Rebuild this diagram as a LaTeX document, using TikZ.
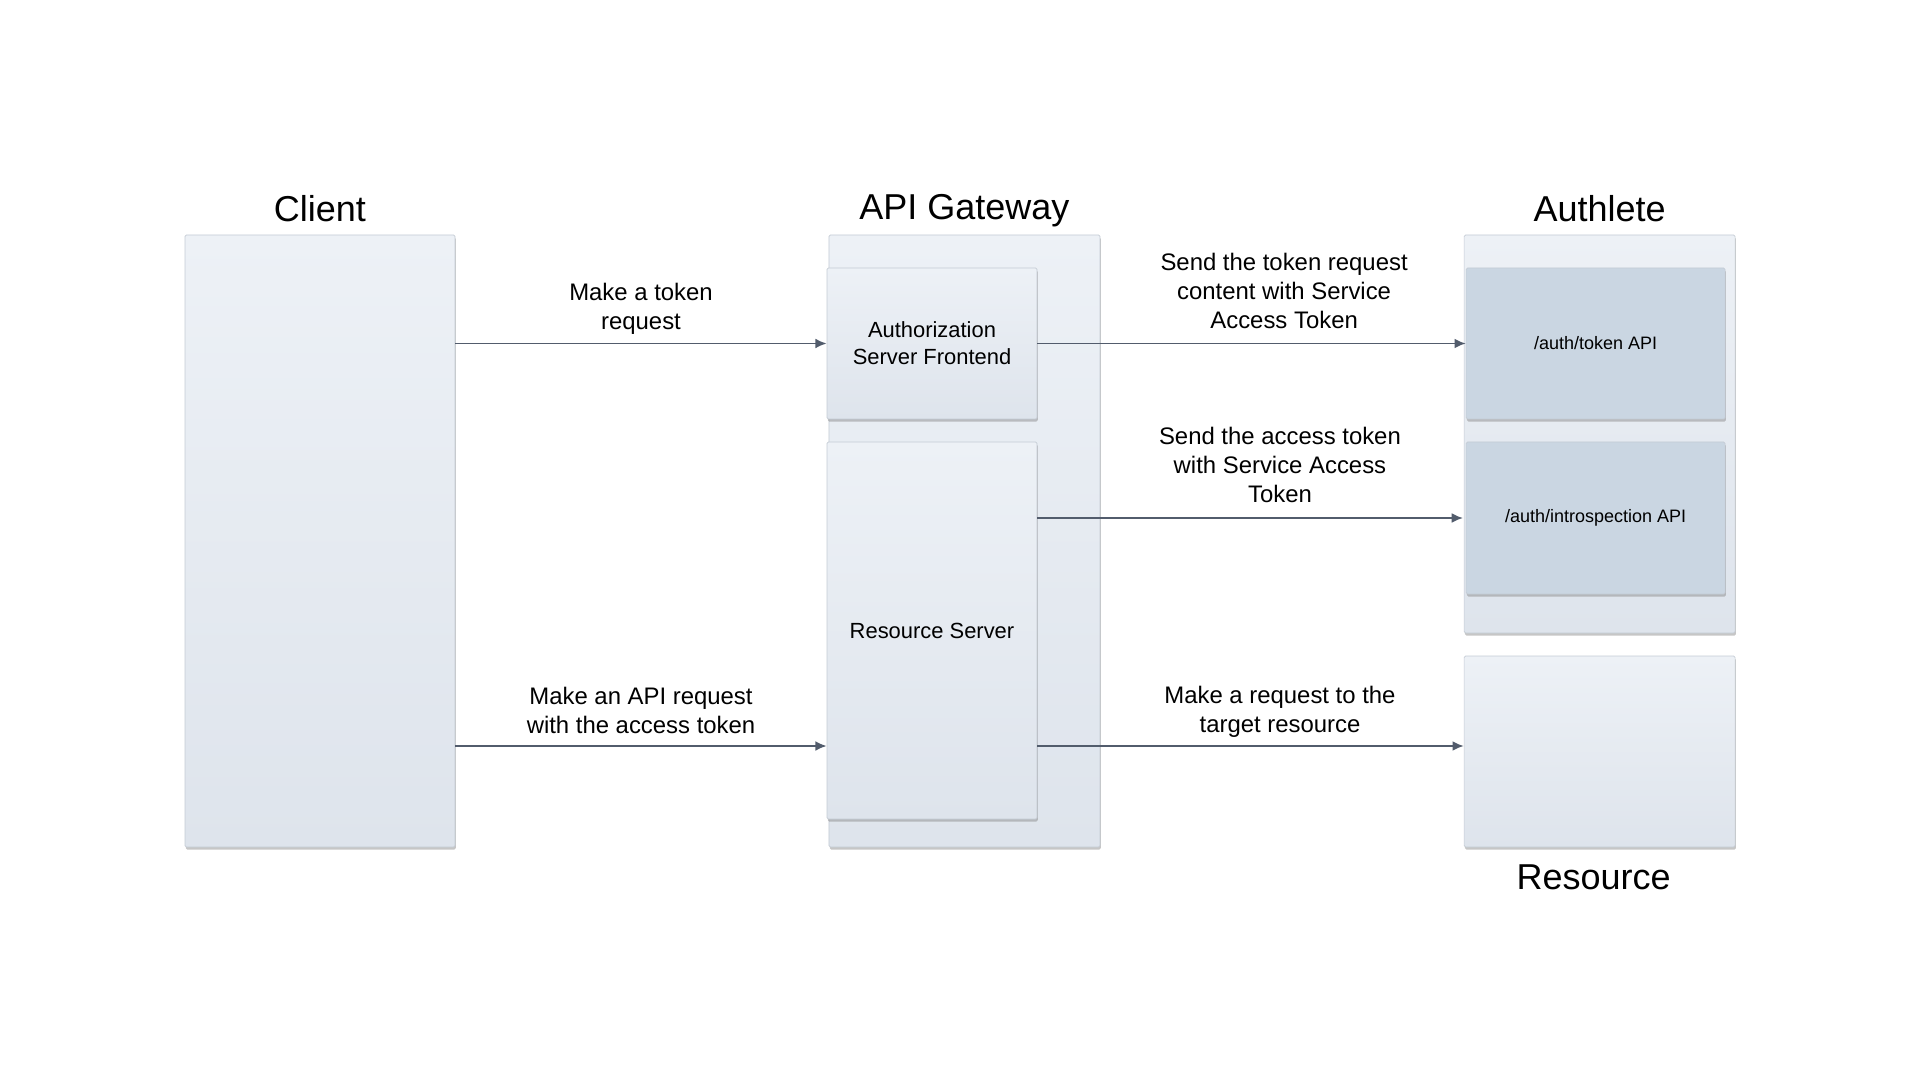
\documentclass[tikz,border=0pt]{standalone}
\usepackage{fontspec}
\setmainfont{Liberation Sans}
\usetikzlibrary{positioning,shadows,arrows.meta}
\definecolor{boxtop}{RGB}{237,241,246}
\definecolor{boxbot}{RGB}{222,228,236}
\definecolor{apifill}{RGB}{202,214,226}
\definecolor{boxline}{RGB}{196,203,212}
\definecolor{arrowgray}{RGB}{82,92,108}
\begin{document}
\begin{tikzpicture}[x=1cm,y=1cm,
  panel/.style={draw=boxline, line width=0.5pt, rounded corners=1pt, top color=boxtop, bottom color=boxbot, inner sep=0pt,
    drop shadow={opacity=0.45, shadow xshift=0.6pt, shadow yshift=-1.8pt}},
  api/.style={panel, top color=apifill, bottom color=apifill, font=\fontsize{12.8}{15.4}\selectfont},
  inbox/.style={panel, align=center, font=\fontsize{15.6}{19.2}\selectfont},
  title/.style={font=\fontsize{25.6}{30}\selectfont, inner sep=0pt, text depth=0pt},
  msg/.style={draw=arrowgray, line width=1.3pt, -{Latex[length=8pt,width=7pt]}},
  lbl/.style={font=\fontsize{17}{20.6}\selectfont, align=center, inner sep=3pt}]
\useasboundingbox (0,0) rectangle (48,-27);
\node[panel, minimum width=6.75cm, minimum height=15.3cm] (client) at (8.0,-13.525) {};
\node[panel, minimum width=6.775cm, minimum height=15.3cm] (gateway) at (24.11,-13.525) {};
\node[inbox, minimum width=5.25cm, minimum height=3.775cm] (asf) at (23.3,-8.5875) {Authorization\\Server Frontend};
\node[inbox, minimum width=5.25cm, minimum height=9.425cm] (rs) at (23.3,-15.7625) {Resource Server};
\node[panel, minimum width=6.775cm, minimum height=9.95cm] (authlete) at (39.99,-10.85) {};
\node[api, minimum width=6.475cm, minimum height=3.775cm] (tokenapi) at (39.89,-8.5875) {/auth/token API};
\node[api, minimum width=6.475cm, minimum height=3.8cm] (introapi) at (39.89,-12.95) {/auth/introspection API};
\node[panel, minimum width=6.775cm, minimum height=4.775cm] (resource) at (39.99,-18.7875) {};

\node[title, above=0.33cm of client] (clientlbl) {Client};
\node[title, above=0.38cm of gateway] (gatewaylbl) {API Gateway};
\node[title, above=0.33cm of authlete] (authletelbl) {Authlete};
\node[title, below=0.42cm of resource, xshift=-0.15cm] (resourcelbl) {Resource};

\coordinate (reqline) at (0,-18.65);
\draw[msg] (client.east |- asf.west) -- node[lbl, above, midway, yshift=0.09cm] (tokreq) {Make a token\\request} (asf.west);
\draw[msg] (client.east |- reqline) -- node[lbl, above, midway, yshift=0.18cm] (apireq) {Make an API request\\with the access token} (rs.west |- reqline);
\draw[msg] (asf.east) -- node[lbl, above, pos=0.576, yshift=0.25cm] (sendreq) {Send the token request\\content with Service\\Access Token} (tokenapi.west);
\draw[msg] (rs.east |- introapi.west) -- node[lbl, above, pos=0.57, yshift=0.25cm] (sendtok) {Send the access token\\with Service Access\\Token} ([xshift=-2pt]introapi.west);
\draw[msg] (rs.east |- reqline) -- node[lbl, above, pos=0.569, yshift=0.09cm] (resreq) {Make a request to the\\target resource} (resource.west |- reqline);
\end{tikzpicture}
\end{document}
